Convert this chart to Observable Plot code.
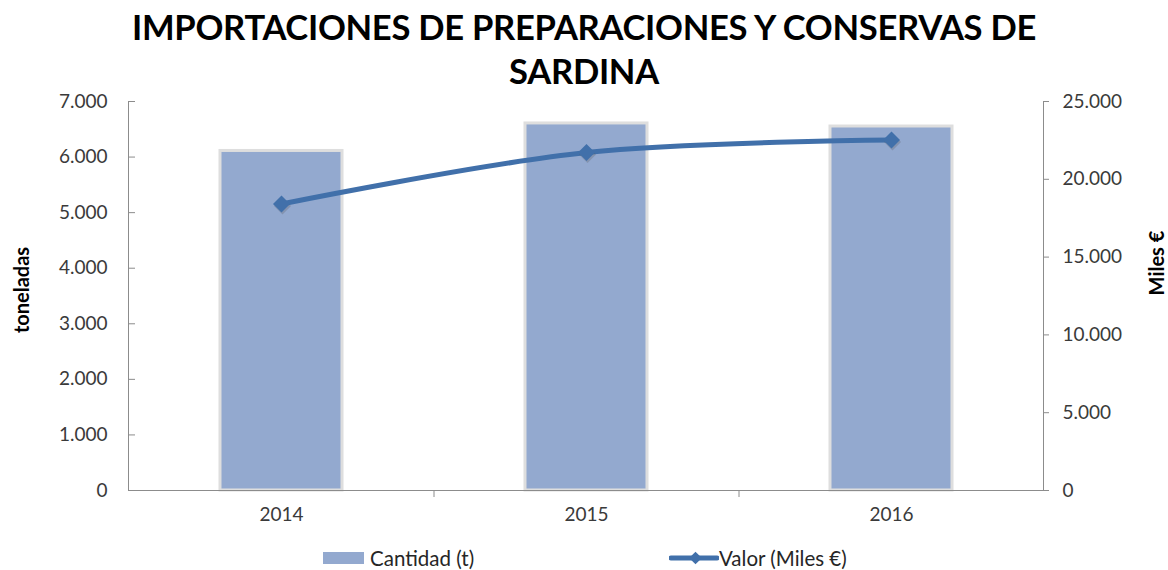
<!DOCTYPE html>
<html>
<head>
<meta charset="utf-8">
<script src="https://cdn.jsdelivr.net/npm/d3@7"></script>
<script src="https://cdn.jsdelivr.net/npm/@observablehq/plot@0.6"></script>
<style>
  body { margin: 0; background: #fff; font-family: Lato, "Open Sans", sans-serif; }
  #wrap { width: 1168px; height: 570px; position: relative; overflow: hidden; background: #fff; }
  #title { height: 80px; box-sizing: border-box; padding-top: 5px; text-align: center;
           font-weight: bold; font-size: 34.6px; line-height: 44px; color: #000; letter-spacing: -0.3px; }
  #legend { position: relative; height: 35px; font-size: 20.5px; color: #262626; }
  #legend .item { position: absolute; top: 0; height: 35px; display: flex; align-items: center; }
  #legend .sw { width: 41px; height: 12px; background: #93A9CF; margin-right: 6px; }
</style>
</head>
<body>
<div id="wrap">
  <div id="title">IMPORTACIONES DE PREPARACIONES Y CONSERVAS DE<br>SARDINA</div>
  <div id="chart"></div>
  <div id="legend">
    <div class="item" style="left:323px; top:5px"><span class="sw"></span><span>Cantidad (t)</span></div>
    <div class="item" style="left:669px; top:5px">
      <svg width="50" height="18" style="margin-right:0px">
        <line x1="2" y1="9" x2="48" y2="9" stroke="#4170AA" stroke-width="5" stroke-linecap="round"></line>
        <rect x="22" y="4.5" width="9" height="9" fill="#4170AA" transform="rotate(45 26.5 9)"></rect>
      </svg><span>Valor (Miles €)</span>
    </div>
  </div>
</div>
<script>
// ---- data ----
const years = ["2014", "2015", "2016"];
const cantidad = [6110, 6605, 6550];          // toneladas (left axis)
const valor = [18410, 21720, 22520];          // Miles € (right axis)
const yTicks = [0, 1000, 2000, 3000, 4000, 5000, 6000, 7000];
const y2Ticks = [0, 5000, 10000, 15000, 20000, 25000];
const yMax = 7000, y2Max = 25000;

const data = years.map((year, i) => ({year, cantidad: cantidad[i], valor: valor[i]}));
const toY = v => v * yMax / y2Max;
const esLocale = d3.formatLocale({decimal: ",", thousands: ".", grouping: [3], currency: ["", "€"]});
const fmt = esLocale.format(",d");

const W = 1168, H = 455, mL = 128, mR = 125, mT = 21, mB = 45;
const step = (W - mL - mR) / years.length;

const barColor = "#93A9CF", lineColor = "#4170AA", axisColor = "#8c8c8c", textColor = "#3a3a3a";

const chart = Plot.plot({
  width: W, height: H,
  marginLeft: mL, marginRight: mR, marginTop: mT, marginBottom: mB,
  style: {fontFamily: "Lato, 'Open Sans', sans-serif", fontSize: "19px", color: textColor, background: "white", overflow: "visible"},
  x: {type: "band", domain: years, paddingInner: 0.6, paddingOuter: 0.3, axis: null, label: null},
  y: {domain: [0, yMax], axis: null, label: null},
  marks: [
    Plot.barY(data, {x: "year", y: "cantidad", fill: barColor, stroke: "#dedede", strokeWidth: 3}),
    Plot.frame({anchor: "left", stroke: axisColor}),
    Plot.frame({anchor: "right", stroke: axisColor}),
    Plot.ruleY([0], {stroke: axisColor}),
    Plot.axisY(yTicks, {anchor: "left", label: null, tickFormat: fmt, tickSize: -7, tickPadding: 28, stroke: axisColor, fill: textColor}),
    Plot.axisY(y2Ticks.map(toY), {anchor: "right", label: null, tickFormat: d => fmt(Math.round(d * y2Max / yMax)), tickSize: 5, tickPadding: 14, stroke: axisColor, fill: textColor}),
    Plot.axisX(years, {anchor: "bottom", label: null, tickSize: 0, tickPadding: 17, fill: textColor}),
    Plot.axisX(years.slice(1), {anchor: "bottom", label: null, text: null, tickSize: 7, dx: -step / 2, stroke: axisColor}),
    Plot.line(data, {x: "year", y: d => toY(d.valor), stroke: lineColor, strokeWidth: 5, curve: "catmull-rom"}),
    Plot.dot(data, {x: "year", y: d => toY(d.valor), symbol: "square", r: 6.8, rotate: 45, fill: "#555", fillOpacity: 0.25, dx: 1, dy: 2}),
    Plot.dot(data, {x: "year", y: d => toY(d.valor), symbol: "square", r: 6.8, rotate: 45, fill: lineColor}),
    Plot.text(["toneladas"], {frameAnchor: "left", textAnchor: "middle", dx: -106, dy: -6, rotate: -90, fontWeight: "bold", fontSize: 20, fill: "#000"}),
    Plot.text(["Miles €"], {frameAnchor: "right", textAnchor: "middle", dx: 114, dy: -33, rotate: -90, fontWeight: "bold", fontSize: 20, fill: "#000"})
  ]
});
document.getElementById("chart").appendChild(chart);
</script>
</body>
</html>
